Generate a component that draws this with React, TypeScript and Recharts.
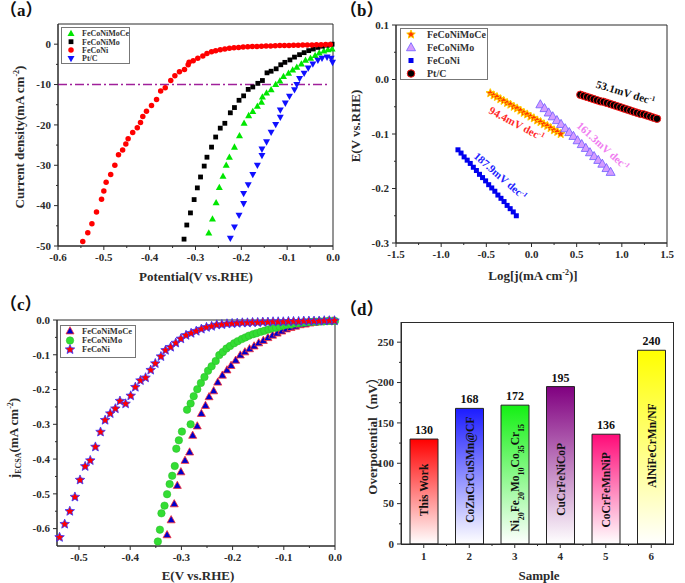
import React from 'react';
import {
  ScatterChart,
  Scatter,
  BarChart,
  Bar,
  Cell,
  LabelList,
  XAxis,
  YAxis,
  ReferenceLine,
  ReferenceArea,
  ReferenceDot,
  Legend,
  Label,
} from 'recharts';

const FONT = '"Liberation Serif", "Times New Roman", "Noto Sans CJK SC", serif';
const INK = '#2b2b2b';

// (a) LSV: [potential (V vs RHE), current density (mA cm-2)]
const A_FECONIMOCE: [number, number][] = [
  [-0.271, -46.8], [-0.263, -43.3], [-0.255, -39.3], [-0.248, -35.5], [-0.24, -32.7], [-0.233, -30.0],
  [-0.226, -28.0], [-0.215, -25.5], [-0.204, -22.7], [-0.194, -19.6], [-0.184, -17.7], [-0.175, -16.7],
  [-0.165, -15.4], [-0.156, -14.4], [-0.154, -13.1], [-0.145, -12.1], [-0.135, -11.3], [-0.125, -10.0],
  [-0.116, -9.1], [-0.108, -8.0], [-0.097, -7.2], [-0.088, -6.4], [-0.079, -5.7], [-0.069, -4.9],
  [-0.06, -4.0], [-0.049, -3.5], [-0.039, -2.8], [-0.03, -2.2], [-0.02, -1.7], [-0.011, -1.4], [-0.002, -1.2],
];
const A_FECONIMO: [number, number][] = [
  [-0.325, -48.3], [-0.319, -44.8], [-0.311, -41.8], [-0.303, -38.5], [-0.296, -35.6], [-0.289, -32.9],
  [-0.281, -30.2], [-0.275, -28.0], [-0.265, -25.5], [-0.256, -23.0], [-0.246, -20.8], [-0.236, -19.6],
  [-0.224, -17.0], [-0.215, -15.7], [-0.205, -13.9], [-0.195, -12.8], [-0.185, -11.2], [-0.175, -10.6],
  [-0.164, -9.7], [-0.154, -9.0], [-0.144, -7.1], [-0.135, -6.7], [-0.124, -6.1], [-0.114, -5.1],
  [-0.105, -4.5], [-0.094, -3.9], [-0.084, -3.2], [-0.073, -2.6], [-0.063, -2.1], [-0.053, -1.6],
  [-0.043, -1.2], [-0.033, -0.8], [-0.023, -0.5], [-0.012, -0.25], [-0.002, 0],
];
const A_FECONI: [number, number][] = [
  [-0.546, -48.9], [-0.535, -46.7], [-0.526, -44.5], [-0.516, -41.6], [-0.505, -38.4], [-0.5, -36.4],
  [-0.495, -34.2], [-0.485, -32.3], [-0.476, -30.0], [-0.468, -27.4], [-0.459, -26.2], [-0.452, -24.7],
  [-0.447, -23.4], [-0.437, -21.9], [-0.427, -20.7], [-0.42, -19.4], [-0.415, -17.9], [-0.407, -16.6],
  [-0.396, -15.2], [-0.385, -13.7], [-0.376, -11.6], [-0.366, -10.8], [-0.354, -9.0], [-0.345, -7.8],
  [-0.335, -6.8], [-0.324, -6.3], [-0.316, -5.1], [-0.314, -4.5], [-0.305, -4.1], [-0.295, -3.5],
  [-0.284, -2.9], [-0.275, -2.3], [-0.265, -1.9], [-0.256, -1.6], [-0.246, -1.4], [-0.236, -1.2],
  [-0.226, -1.0], [-0.216, -0.9], [-0.206, -0.8], [-0.196, -0.7], [-0.186, -0.65], [-0.176, -0.6],
  [-0.166, -0.55], [-0.156, -0.5], [-0.146, -0.45], [-0.136, -0.42], [-0.126, -0.38], [-0.116, -0.35],
  [-0.106, -0.32], [-0.096, -0.3], [-0.086, -0.27], [-0.076, -0.25], [-0.066, -0.22], [-0.056, -0.2],
  [-0.046, -0.18], [-0.036, -0.15], [-0.026, -0.12], [-0.016, -0.1], [-0.006, -0.08],
];
const A_PTC: [number, number][] = [
  [-0.224, -48.1], [-0.215, -45.3], [-0.205, -42.4], [-0.195, -39.5], [-0.195, -37.0], [-0.185, -34.8],
  [-0.175, -32.3], [-0.165, -30.0], [-0.155, -27.6], [-0.155, -26.0], [-0.145, -24.2], [-0.135, -21.8],
  [-0.125, -19.9], [-0.115, -18.1], [-0.115, -16.3], [-0.104, -14.6], [-0.095, -12.9], [-0.084, -11.3],
  [-0.079, -10.0], [-0.073, -8.5], [-0.063, -7.2], [-0.054, -5.9], [-0.044, -4.9], [-0.033, -4.0],
  [-0.024, -3.5], [-0.013, -3.2], [-0.004, -3.5], [-0.001, -4.5],
];
const A_X_MAJOR = [-0.6, -0.5, -0.4, -0.3, -0.2, -0.1, 0];
const A_X_MINOR = [-0.55, -0.45, -0.35, -0.25, -0.15, -0.05];
const A_Y_MAJOR = [-50, -40, -30, -20, -10, 0];
const A_Y_MINOR = [-45, -35, -25, -15, -5];

// (b) Tafel: [log j, E (V vs RHE)]
const B_FECONIMOCE: [number, number][] = [
  [-0.456, -0.025], [-0.419, -0.029], [-0.382, -0.032], [-0.345, -0.036], [-0.308, -0.039], [-0.27, -0.043],
  [-0.233, -0.046], [-0.196, -0.05], [-0.159, -0.053], [-0.122, -0.057], [-0.085, -0.061], [-0.048, -0.064],
  [-0.011, -0.068], [0.026, -0.071], [0.063, -0.075], [0.1, -0.078], [0.137, -0.082], [0.175, -0.085],
  [0.212, -0.089], [0.249, -0.093], [0.286, -0.096], [0.323, -0.1],
];
const B_FECONIMO: [number, number][] = [
  [0.098, -0.046], [0.144, -0.053], [0.19, -0.061], [0.235, -0.068], [0.281, -0.075], [0.327, -0.082],
  [0.373, -0.09], [0.418, -0.097], [0.464, -0.104], [0.51, -0.112], [0.556, -0.119], [0.601, -0.126],
  [0.647, -0.134], [0.693, -0.141], [0.739, -0.148], [0.784, -0.155], [0.83, -0.163], [0.876, -0.17],
];
const B_FECONI: [number, number][] = [
  [-0.814, -0.129], [-0.78, -0.135], [-0.746, -0.142], [-0.712, -0.148], [-0.678, -0.154], [-0.644, -0.161],
  [-0.61, -0.167], [-0.576, -0.174], [-0.542, -0.18], [-0.508, -0.186], [-0.474, -0.193], [-0.44, -0.199],
  [-0.406, -0.205], [-0.372, -0.212], [-0.338, -0.218], [-0.304, -0.224], [-0.27, -0.231], [-0.236, -0.237],
  [-0.202, -0.243], [-0.168, -0.25],
];
const B_PTC: [number, number][] = [
  [0.541, -0.028], [0.578, -0.03], [0.615, -0.032], [0.652, -0.034], [0.688, -0.036], [0.725, -0.038],
  [0.762, -0.04], [0.799, -0.041], [0.836, -0.043], [0.873, -0.045], [0.91, -0.047], [0.947, -0.049],
  [0.983, -0.051], [1.02, -0.053], [1.057, -0.055], [1.094, -0.057], [1.131, -0.059], [1.168, -0.061],
  [1.205, -0.063], [1.242, -0.064], [1.278, -0.066], [1.315, -0.068], [1.352, -0.07], [1.389, -0.072],
];
const B_SLOPES = ['94.4', '161.3', '187.9', '53.1'];
const B_SLOPE_AT: [number, number][] = [[-0.164, -0.081], [0.792, -0.122], [-0.344, -0.177], [1.04, -0.024]];
const B_X_MAJOR = [-1.5, -1, -0.5, 0, 0.5, 1, 1.5];
const B_X_MINOR = [-1.25, -0.75, -0.25, 0.25, 0.75, 1.25];
const B_Y_MAJOR = [-0.3, -0.2, -0.1, 0, 0.1];
const B_Y_MINOR = [-0.25, -0.15, -0.05, 0.05];

// (c) ECSA-normalised LSV: [E (V vs RHE), j_ECSA (mA cm-2)]
const C_FECONIMOCE: [number, number][] = [
  [-0.328, -0.618], [-0.32, -0.575], [-0.314, -0.529], [-0.308, -0.476], [-0.301, -0.437], [-0.293, -0.404],
  [-0.284, -0.38], [-0.278, -0.332], [-0.269, -0.305], [-0.261, -0.269], [-0.253, -0.246], [-0.246, -0.221],
  [-0.237, -0.204], [-0.229, -0.179], [-0.22, -0.159], [-0.211, -0.144], [-0.203, -0.131], [-0.194, -0.116],
  [-0.185, -0.101], [-0.176, -0.092], [-0.167, -0.083], [-0.158, -0.075], [-0.149, -0.066], [-0.14, -0.059],
  [-0.131, -0.051], [-0.122, -0.044], [-0.113, -0.038], [-0.104, -0.032], [-0.095, -0.026], [-0.086, -0.022],
  [-0.077, -0.018], [-0.068, -0.014], [-0.058, -0.012], [-0.049, -0.009], [-0.04, -0.007], [-0.031, -0.005],
  [-0.022, -0.004], [-0.013, -0.003], [-0.004, -0.003],
];
const C_FECONIMO: [number, number][] = [
  [-0.346, -0.637], [-0.342, -0.603], [-0.339, -0.556], [-0.333, -0.534], [-0.328, -0.501], [-0.323, -0.472],
  [-0.318, -0.448], [-0.313, -0.42], [-0.31, -0.37], [-0.305, -0.346], [-0.299, -0.321], [-0.282, -0.3],
  [-0.289, -0.258], [-0.282, -0.24], [-0.276, -0.219], [-0.269, -0.199], [-0.262, -0.181], [-0.255, -0.164],
  [-0.248, -0.146], [-0.241, -0.133], [-0.233, -0.118], [-0.226, -0.101], [-0.219, -0.092], [-0.212, -0.082],
  [-0.205, -0.075], [-0.197, -0.067], [-0.19, -0.061], [-0.182, -0.055], [-0.175, -0.05], [-0.168, -0.045],
  [-0.16, -0.041], [-0.153, -0.038], [-0.145, -0.034], [-0.138, -0.031], [-0.13, -0.027], [-0.123, -0.024],
  [-0.115, -0.022], [-0.108, -0.019], [-0.101, -0.016], [-0.094, -0.014], [-0.086, -0.013], [-0.079, -0.01],
  [-0.072, -0.009], [-0.065, -0.008], [-0.058, -0.007], [-0.05, -0.006], [-0.043, -0.005], [-0.036, -0.005],
  [-0.029, -0.004], [-0.022, -0.004], [-0.014, -0.003], [-0.007, -0.003], [0, -0.003],
];
const C_FECONI: [number, number][] = [
  [-0.538, -0.625], [-0.528, -0.587], [-0.518, -0.55], [-0.508, -0.509], [-0.498, -0.46], [-0.488, -0.421],
  [-0.478, -0.404], [-0.468, -0.365], [-0.458, -0.322], [-0.449, -0.288], [-0.439, -0.269], [-0.429, -0.255],
  [-0.42, -0.233], [-0.409, -0.241], [-0.399, -0.218], [-0.39, -0.193], [-0.38, -0.174], [-0.37, -0.166],
  [-0.36, -0.144], [-0.351, -0.125], [-0.34, -0.105], [-0.331, -0.087], [-0.321, -0.078], [-0.311, -0.066],
  [-0.301, -0.054], [-0.291, -0.044], [-0.281, -0.038], [-0.271, -0.032], [-0.261, -0.026], [-0.251, -0.021],
  [-0.241, -0.018], [-0.231, -0.014], [-0.221, -0.013], [-0.211, -0.011], [-0.201, -0.01], [-0.191, -0.009],
  [-0.181, -0.008], [-0.171, -0.008], [-0.161, -0.007], [-0.151, -0.007], [-0.141, -0.006], [-0.131, -0.006],
  [-0.121, -0.005], [-0.111, -0.005], [-0.101, -0.005], [-0.091, -0.004], [-0.081, -0.004], [-0.071, -0.004],
  [-0.061, -0.003], [-0.051, -0.003], [-0.041, -0.003], [-0.031, -0.003], [-0.021, -0.002], [-0.011, -0.002],
  [-0.001, -0.002],
];
const C_X_MAJOR = [-0.5, -0.4, -0.3, -0.2, -0.1, 0];
const C_X_MINOR = [-0.45, -0.35, -0.25, -0.15, -0.05];
const C_Y_MAJOR = [-0.6, -0.5, -0.4, -0.3, -0.2, -0.1, 0];
const C_Y_MINOR = [-0.55, -0.45, -0.35, -0.25, -0.15, -0.05];

// (d) overpotential comparison
const SAMPLES = ['1', '2', '3', '4', '5', '6'];
const OVERPOTENTIAL = [130, 168, 172, 195, 136, 240];
const MATERIALS = ['This Work', 'CoZnCrCuSMn@CF', 'Ni_20Fe_20Mo_10Co_35Cr_15', 'CuCrFeNiCoP', 'CoCrFeMnNiP', 'AlNiFeCrMn/NF'];
const D_Y_MAJOR = [0, 50, 100, 150, 200, 250];
const D_Y_MINOR = [25, 75, 125, 175, 225];

// layout / style (not data)
const BAR_COLORS = ['#ff0000', '#1c1cff', '#14f014', '#800080', '#ff0a78', '#ffff00'];
const NAME_MID = [67, 92, 82, 80, 67, 122];

const pts = (a: [number, number][]) => a.map(([x, y]) => ({ x, y }));
const ticksOf = (a: number[], b: number[]) => [...a, ...b].sort((p, q) => p - q);
const isMajor = (majors: number[], v: number) => majors.some((m) => Math.abs(m - v) < 1e-6);

const TICK_TEXT = { fontFamily: FONT, fontWeight: 'bold', fontSize: 11, fill: INK } as const;

function bottomTick(majors: number[], fmt: (v: number) => string) {
  return (p: any) => {
    const v = p.payload.value;
    const major = isMajor(majors, v);
    return (
      <g>
        <line x1={p.x} x2={p.x} y1={p.y} y2={p.y + (major ? 4 : 2)} stroke={INK} />
        {major && (
          <text x={p.x} y={p.y + 15} textAnchor="middle" {...TICK_TEXT}>
            {fmt(v)}
          </text>
        )}
      </g>
    );
  };
}

function leftTick(majors: number[], fmt: (v: number) => string) {
  return (p: any) => {
    const v = p.payload.value;
    const major = isMajor(majors, v);
    return (
      <g>
        <line x1={p.x} x2={p.x - (major ? 4 : 2)} y1={p.y} y2={p.y} stroke={INK} />
        {major && (
          <text x={p.x - 7} y={p.y} dy="0.35em" textAnchor="end" {...TICK_TEXT}>
            {fmt(v)}
          </text>
        )}
      </g>
    );
  };
}

const f1 = (v: number) => v.toFixed(1);
const f0 = (v: number) => v.toFixed(0);

const title = (x: number, y: number, content: React.ReactNode, rotate = false) => () => (
  <text
    x={x}
    y={y}
    transform={rotate ? `rotate(-90 ${x} ${y})` : undefined}
    textAnchor="middle"
    dy="0.35em"
    fontFamily={FONT}
    fontWeight="bold"
    fontSize={13}
    fill={INK}
  >
    {content}
  </text>
);

const sup = (s: string) => [
  <tspan key="s" dy={-5} fontSize={8}>{s}</tspan>,
  <tspan key="r" dy={5}>)</tspan>,
];

function Marker({ kind, cx, cy, size, fill, stroke = 'none', sw = 1 }: any) {
  const r = size / 2;
  const common = { fill, stroke, strokeWidth: sw };
  if (kind === 'circle') return <circle cx={cx} cy={cy} r={r} {...common} />;
  if (kind === 'square') return <rect x={cx - r} y={cy - r} width={size} height={size} {...common} />;
  if (kind === 'tri' || kind === 'tridown') {
    const h = size * 0.9;
    const s = kind === 'tri' ? 1 : -1;
    const p = `${cx},${cy - s * h * 0.6} ${cx - r},${cy + s * h * 0.4} ${cx + r},${cy + s * h * 0.4}`;
    return <polygon points={p} {...common} />;
  }
  // star
  const out: string[] = [];
  for (let i = 0; i < 10; i++) {
    const rr = i % 2 === 0 ? r : r * 0.45;
    const a = -Math.PI / 2 + (i * Math.PI) / 5;
    out.push(`${cx + rr * Math.cos(a)},${cy + rr * Math.sin(a)}`);
  }
  return <polygon points={out.join(' ')} {...common} strokeLinejoin="round" />;
}

function LegendBox({ series, w, h, rows, symX, textX, fontSize }: any) {
  return (
    <svg width={w} height={h} style={{ display: 'block' }}>
      <rect x={0.5} y={0.5} width={w - 1} height={h - 1} fill="#fff" stroke="#777" />
      {series.map((s: any, i: number) => (
        <g key={s.name}>
          <Marker {...s.style} cx={symX} cy={rows[i]} />
          <text x={textX} y={rows[i]} dy="0.35em" fontFamily={FONT} fontWeight="bold" fontSize={fontSize} fill="#333">
            {s.name}
          </text>
        </g>
      ))}
    </svg>
  );
}

const A_SERIES = [
  { name: 'FeCoNiMoCe', data: A_FECONIMOCE, style: { kind: 'tri', size: 7, fill: '#00e600' } },
  { name: 'FeCoNiMo', data: A_FECONIMO, style: { kind: 'square', size: 4.8, fill: '#000' } },
  { name: 'FeCoNi', data: A_FECONI, style: { kind: 'circle', size: 5.5, fill: '#ff0000' } },
  { name: 'Pt/C', data: A_PTC, style: { kind: 'tridown', size: 7, fill: '#1010ff' } },
];
const B_SERIES = [
  { name: 'FeCoNiMoCe', data: B_FECONIMOCE, style: { kind: 'star', size: 9, fill: '#ff3a00', stroke: '#ffd000', sw: 1 } },
  { name: 'FeCoNiMo', data: B_FECONIMO, style: { kind: 'tri', size: 9, fill: '#d49cff', stroke: '#6f5cff', sw: 0.8 } },
  { name: 'FeCoNi', data: B_FECONI, style: { kind: 'square', size: 5, fill: '#0000ee' } },
  { name: 'Pt/C', data: B_PTC, style: { kind: 'circle', size: 7.5, fill: '#000', stroke: '#ff1a1a', sw: 1 } },
];
const B_SLOPE_COLORS = ['#ff2a2a', '#f07ef0', '#2222ff', '#111'];
const B_SLOPE_ANGLE = [28, 42, 41, 17];
const C_SERIES = [
  { name: 'FeCoNiMoCe', data: C_FECONIMOCE, style: { kind: 'tri', size: 8, fill: '#0000cc', stroke: '#ff3030', sw: 0.8 } },
  { name: 'FeCoNiMo', data: C_FECONIMO, style: { kind: 'circle', size: 7.5, fill: '#33dd33', stroke: '#2bbb2b', sw: 0.5 } },
  { name: 'FeCoNi', data: C_FECONI, style: { kind: 'star', size: 10, fill: '#ff0000', stroke: '#3333ff', sw: 0.8 } },
];

function scatterLayer(series: any[]) {
  return series.map((s) => (
    <Scatter
      key={s.name}
      name={s.name}
      data={pts(s.data)}
      isAnimationActive={false}
      shape={(p: any) => <Marker {...s.style} cx={p.cx} cy={p.cy} />}
    />
  ));
}

function PanelA() {
  return (
    <ScatterChart width={342} height={290} margin={{ top: 24, right: 9, bottom: 0, left: 0 }}>
      <XAxis
        type="number" dataKey="x" domain={[-0.6, 0]} ticks={ticksOf(A_X_MAJOR, A_X_MINOR)} interval={0}
        tickLine={false} tickSize={0} tickMargin={0} height={44} axisLine={{ stroke: INK }}
        tick={bottomTick(A_X_MAJOR, f1)}
      >
        <Label content={title(196, 276, 'Potential(V vs.RHE)')} />
      </XAxis>
      <YAxis
        type="number" dataKey="y" domain={[-50, 5]} ticks={ticksOf(A_Y_MAJOR, A_Y_MINOR)} interval={0}
        tickLine={false} tickSize={0} tickMargin={0} width={58} axisLine={{ stroke: INK }}
        tick={leftTick(A_Y_MAJOR, f0)}
      >
        <Label content={title(19, 137, ['Current density(mA cm', ...sup('-2')], true)} />
      </YAxis>
      <ReferenceArea x1={-0.6} x2={0} y1={-50} y2={5} fill="none" stroke={INK} ifOverflow="visible" />
      <ReferenceLine
        segment={[{ x: -0.6, y: -10 }, { x: -0.01, y: -10 }]}
        stroke="#a0209a" strokeWidth={1.6} strokeDasharray="9 3 2 3"
      />
      {scatterLayer(A_SERIES)}
      <Legend
        layout="vertical" align="center" verticalAlign="middle"
        wrapperStyle={{ left: 61, top: 27 }}
        content={() => <LegendBox series={A_SERIES} w={69} h={37} rows={[6.5, 14.7, 23, 31.5]} symX={10} textX={21} fontSize={8} />}
      />
    </ScatterChart>
  );
}

function PanelB() {
  return (
    <ScatterChart width={343} height={290} margin={{ top: 25, right: 18, bottom: 0, left: 0 }}>
      <XAxis
        type="number" dataKey="x" domain={[-1.5, 1.5]} ticks={ticksOf(B_X_MAJOR, B_X_MINOR)} interval={0}
        tickLine={false} tickSize={0} tickMargin={0} height={47} axisLine={{ stroke: INK }}
        tick={bottomTick(B_X_MAJOR, f1)}
      >
        <Label content={title(191, 275, ['Log[j(mA cm', <tspan key="s" dy={-5} fontSize={8}>-2</tspan>, <tspan key="r" dy={5}>)]</tspan>])} />
      </XAxis>
      <YAxis
        type="number" dataKey="y" domain={[-0.3, 0.1]} ticks={ticksOf(B_Y_MAJOR, B_Y_MINOR)} interval={0}
        tickLine={false} tickSize={0} tickMargin={0} width={54} axisLine={{ stroke: INK }}
        tick={leftTick(B_Y_MAJOR, f1)}
      >
        <Label content={title(13, 126, 'E(V vs.RHE)', true)} />
      </YAxis>
      <ReferenceArea x1={-1.5} x2={1.5} y1={-0.3} y2={0.1} fill="none" stroke={INK} ifOverflow="visible" />
      {scatterLayer(B_SERIES)}
      {B_SLOPES.map((s, i) => (
        <ReferenceDot
          key={s}
          x={B_SLOPE_AT[i][0]}
          y={B_SLOPE_AT[i][1]}
          r={0}
          shape={(p: any) => (
            <text
              x={p.cx} y={p.cy} dy="0.35em" textAnchor="middle"
              transform={`rotate(${B_SLOPE_ANGLE[i]} ${p.cx} ${p.cy})`}
              fontFamily={FONT} fontWeight="bold" fontSize={11} fill={B_SLOPE_COLORS[i]}
            >
              {s}mV dec<tspan dy={-4} fontSize={7}>-1</tspan>
            </text>
          )}
        />
      ))}
      <Legend
        layout="vertical" align="center" verticalAlign="middle"
        wrapperStyle={{ left: 58, top: 28 }}
        content={() => <LegendBox series={B_SERIES} w={88} h={52} rows={[6.5, 19.5, 32.5, 45.5]} symX={11} textX={27} fontSize={10} />}
      />
    </ScatterChart>
  );
}

function PanelC() {
  return (
    <ScatterChart width={342} height={293} margin={{ top: 30, right: 7, bottom: 0, left: 0 }}>
      <XAxis
        type="number" dataKey="x" domain={[-0.543, 0]} ticks={ticksOf(C_X_MAJOR, C_X_MINOR)} interval={0}
        tickLine={false} tickSize={0} tickMargin={0} height={37} axisLine={{ stroke: INK }}
        tick={bottomTick(C_X_MAJOR, f1)}
      >
        <Label content={title(198, 285, 'E(V vs.RHE)')} />
      </XAxis>
      <YAxis
        type="number" dataKey="y" domain={[-0.65, 0]} ticks={ticksOf(C_Y_MAJOR, C_Y_MINOR)} interval={0}
        tickLine={false} tickSize={0} tickMargin={0} width={57} axisLine={{ stroke: INK }}
        tick={leftTick(C_Y_MAJOR, f1)}
      >
        <Label
          content={title(13, 148, [
            'j',
            <tspan key="e" dy={3} fontSize={8}>ECSA</tspan>,
            <tspan key="m" dy={-3}>(mA cm</tspan>,
            ...sup('-2'),
          ], true)}
        />
      </YAxis>
      <ReferenceArea x1={-0.543} x2={0} y1={-0.65} y2={0} fill="none" stroke={INK} ifOverflow="visible" />
      {scatterLayer(C_SERIES)}
      <Legend
        layout="vertical" align="center" verticalAlign="middle"
        wrapperStyle={{ left: 60, top: 35 }}
        content={() => <LegendBox series={C_SERIES} w={76} h={33} rows={[6, 15.5, 24.5]} symX={10} textX={22} fontSize={8.5} />}
      />
    </ScatterChart>
  );
}

function MaterialName(p: any) {
  const vb = p.viewBox ?? p;
  const i = p.index;
  const base = vb.y + vb.height;
  const cx = vb.x + vb.width / 2;
  const cy = base - (NAME_MID[i] * vb.height) / OVERPOTENTIAL[i];
  const parts = String(MATERIALS[i]).split(/_(\d+)/);
  return (
    <text
      x={cx} y={cy} dy="0.35em" textAnchor="middle" transform={`rotate(-90 ${cx} ${cy})`}
      fontFamily={FONT} fontWeight="bold" fontSize={11.5} fill="#111"
    >
      {parts.map((t, k) =>
        k % 2 === 1 ? (
          <tspan key={k} baselineShift="sub" fontSize={8}>{t}</tspan>
        ) : (
          <tspan key={k}>{t}</tspan>
        ),
      )}
    </text>
  );
}

function ValueTag(p: any) {
  const vb = p.viewBox ?? p;
  return (
    <text x={vb.x + vb.width / 2} y={vb.y - 5} textAnchor="middle" fontFamily={FONT} fontWeight="bold" fontSize={12} fill="#111">
      {p.value}
    </text>
  );
}

function PanelD() {
  const data = SAMPLES.map((s, i) => ({ sample: s, value: OVERPOTENTIAL[i], material: MATERIALS[i] }));
  const band = 273 / SAMPLES.length;
  return (
    <BarChart width={343} height={293} data={data} margin={{ top: 32, right: 11, bottom: 0, left: 0 }}>
      <defs>
        {BAR_COLORS.map((c, i) => (
          <linearGradient key={c} id={`barFade${i}`} x1="0" y1="0" x2="0" y2="1">
            <stop offset="0%" stopColor={c} />
            <stop offset="100%" stopColor="#ffffff" />
          </linearGradient>
        ))}
      </defs>
      <XAxis
        dataKey="sample" height={39} tickLine={false} tickSize={0} tickMargin={0} interval={0}
        axisLine={{ stroke: INK }}
        tick={(p: any) => (
          <g>
            <line x1={p.x} x2={p.x} y1={p.y} y2={p.y + 4} stroke={INK} />
            {p.index < SAMPLES.length - 1 && (
              <line x1={p.x + band / 2} x2={p.x + band / 2} y1={p.y} y2={p.y + 2} stroke={INK} />
            )}
            <text x={p.x} y={p.y + 16} textAnchor="middle" {...TICK_TEXT}>{p.payload.value}</text>
          </g>
        )}
      >
        <Label content={title(197, 285, 'Sample')} />
      </XAxis>
      <YAxis
        type="number" domain={[0, 275]} ticks={ticksOf(D_Y_MAJOR, D_Y_MINOR)} interval={0}
        tickLine={false} tickSize={0} tickMargin={0} width={59} axisLine={{ stroke: INK }}
        tick={leftTick(D_Y_MAJOR, f0)}
      >
        <Label content={title(30, 143, 'Overpotential（mV）', true)} />
      </YAxis>
      <ReferenceArea x1="1" x2="6" y1={0} y2={275} fill="none" stroke="none" />
      <Bar dataKey="value" barSize={28} stroke="#222" strokeWidth={1} isAnimationActive={false}>
        {data.map((d, i) => (
          <Cell key={d.sample} fill={`url(#barFade${i})`} />
        ))}
        <LabelList dataKey="value" content={ValueTag} />
        <LabelList dataKey="material" content={MaterialName} />
      </Bar>
    </BarChart>
  );
}

const tagStyle: React.CSSProperties = {
  position: 'absolute',
  fontFamily: FONT,
  fontWeight: 'bold',
  fontSize: 17,
  lineHeight: '20px',
  color: '#111',
};

export default function App() {
  return (
    <div style={{ position: 'absolute', left: 0, top: 0, width: 685, height: 583, background: '#fff', overflow: 'hidden' }}>
      <div style={{ position: 'absolute', left: 0, top: 0 }}>
        <PanelA />
      </div>
      <div style={{ position: 'absolute', left: 342, top: 0 }}>
        <PanelB />
      </div>
      <div style={{ position: 'absolute', left: 0, top: 290 }}>
        <PanelC />
      </div>
      <div style={{ position: 'absolute', left: 342, top: 290 }}>
        <PanelD />
        <svg width={343} height={293} style={{ position: 'absolute', left: 0, top: 0, pointerEvents: 'none' }}>
          <rect x={59.5} y={32.5} width={272} height={222} fill="none" stroke={INK} />
        </svg>
      </div>
      <div style={{ ...tagStyle, left: 0, top: 1 }}>（a）</div>
      <div style={{ ...tagStyle, left: 340, top: 1 }}>（b）</div>
      <div style={{ ...tagStyle, left: 0, top: 295 }}>（c）</div>
      <div style={{ ...tagStyle, left: 340, top: 300 }}>（d）</div>
    </div>
  );
}
